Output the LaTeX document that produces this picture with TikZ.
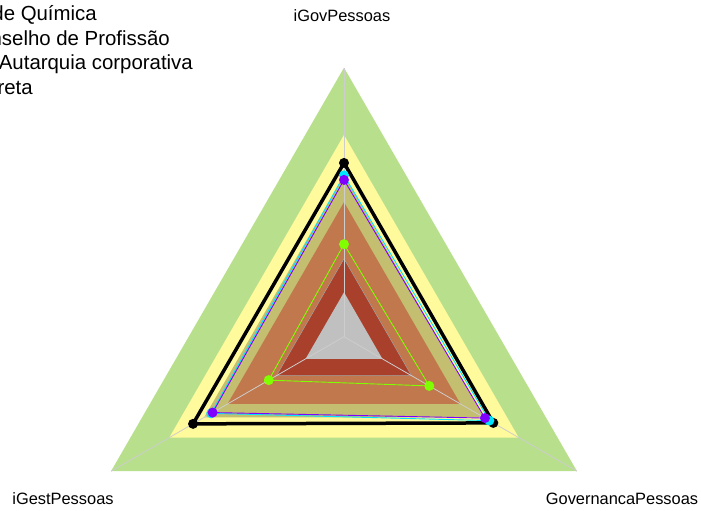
\documentclass[tikz,border=0pt]{standalone}
\usepackage{fontspec}
\setmainfont{Liberation Sans}
\definecolor{bandgreen}{RGB}{184,224,140}
\definecolor{bandyellow}{RGB}{255,250,155}
\definecolor{bandolive}{RGB}{196,190,112}
\definecolor{bandorange}{RGB}{192,120,76}
\definecolor{bandred}{RGB}{168,64,44}
\definecolor{bandgray}{RGB}{192,192,192}
\definecolor{axisgray}{RGB}{205,205,205}
\definecolor{serpurple}{RGB}{128,0,255}
\definecolor{sercyan}{RGB}{0,229,255}
\definecolor{sergreen}{RGB}{128,255,0}
\tikzset{
  band/.style={fill=#1, draw=none},
  axisline/.style={draw=axisgray, line width=0.8pt},
  series/.style={draw=#1, line width=0.9pt, line join=round},
  dot/.style={fill=#1, draw=none},
  axlabel/.style={font=\fontsize{16.4}{18}\selectfont, inner sep=0pt},
  legtext/.style={font=\fontsize{20.4}{24}\selectfont, inner sep=0pt, anchor=base east},
}
\newcommand{\tri}[1]{(90:#1*269) -- (210:#1*269) -- (330:#1*269) -- cycle}
\begin{document}
\begin{tikzpicture}[x=1pt,y=1pt]
\useasboundingbox (0,0) rectangle (701,511);
\clip (0,0) rectangle (701,511);
\begin{scope}[shift={(344,174.3)}]
  \coordinate (C) at (0,0);
  \coordinate (A1) at (90:269);
  \coordinate (A2) at (210:269);
  \coordinate (A3) at (330:269);
  \fill[band=bandgreen] \tri{1};
  \fill[band=bandyellow] \tri{0.75};
  \fill[band=bandolive] \tri{0.6};
  \fill[band=bandorange] \tri{0.5};
  \fill[band=bandred] \tri{0.29};
  \fill[band=bandgray] \tri{0.165};
  \draw[draw=axisgray!80!black, line width=0.5pt] \tri{0.29};
  \draw[axisline] (C) -- (A1);
  \draw[axisline] (C) -- (A2);
  \draw[axisline] (C) -- (A3);
  % black series
  \coordinate (k1) at (90:0.646*269);
  \coordinate (k2) at (210:0.648*269);
  \coordinate (k3) at (330:0.641*269);
  \draw[draw=black, line width=3.5pt, line join=round] (k1) -- (k2) -- (k3) -- cycle;
  \foreach \p in {k1,k2,k3} \fill[dot=black] (\p) circle (5);
  % cyan series
  \coordinate (c1) at (90:0.60*269);
  \coordinate (c2) at (210:0.57*269);
  \coordinate (c3) at (330:0.624*269);
  \draw[series=sercyan] (c1) -- (c2) -- (c3) -- cycle;
  \foreach \p in {c1,c2,c3} \fill[dot=sercyan] (\p) circle (5);
  % purple series
  \coordinate (p1) at (90:0.583*269);
  \coordinate (p2) at (210:0.564*269);
  \coordinate (p3) at (330:0.605*269);
  \draw[series=serpurple] (p1) -- (p2) -- (p3) -- cycle;
  \foreach \p in {p1,p2,p3} \fill[dot=serpurple] (\p) circle (5);
  % green series
  \coordinate (g1) at (90:0.344*269);
  \coordinate (g2) at (210:0.323*269);
  \coordinate (g3) at (330:0.366*269);
  \draw[series=sergreen] (g1) -- (g2) -- (g3) -- cycle;
  \foreach \p in {g1,g2,g3} \fill[dot=sergreen] (\p) circle (5);
\end{scope}
\node[axlabel] (lgov) at (342,495.5) {iGovPessoas};
\node[axlabel] (lgest) at (63,12) {iGestPessoas};
\node[axlabel] (lgovern) at (622,12) {GovernancaPessoas};
\node[legtext] (leg1) at (97,490) {Conselho Regional de Química};
\node[legtext] (leg2) at (170,465) {Conselho de Profissão};
\node[legtext] (leg3) at (193,441) {Autarquia corporativa};
\node[legtext] (leg4) at (33,416) {Administração direta};
\end{tikzpicture}
\end{document}
